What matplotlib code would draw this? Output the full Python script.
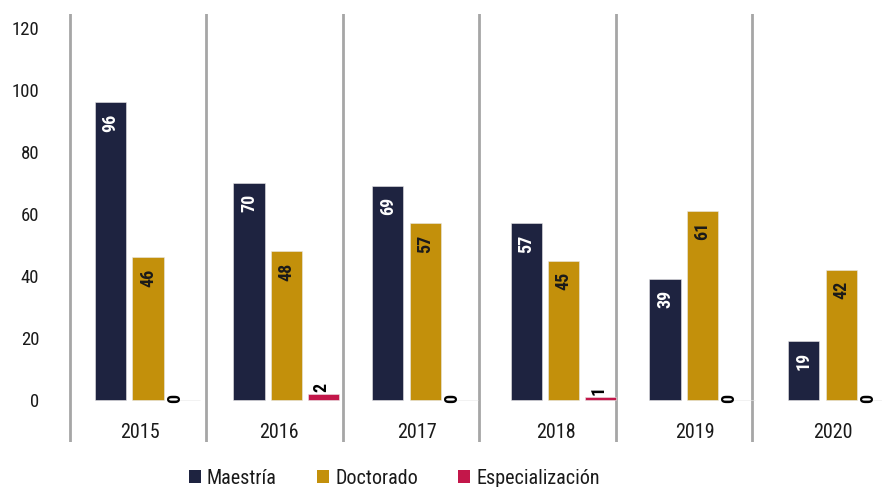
import numpy as np
import matplotlib
matplotlib.use('Agg')
from matplotlib import pyplot as plt
from matplotlib.patches import Patch
from matplotlib import font_manager

years = ['2015', '2016', '2017', '2018', '2019', '2020']
series_names = ['Maestría', 'Doctorado', 'Especialización']
maestria = [96, 70, 69, 57, 39, 19]
doctorado = [46, 48, 57, 45, 61, 42]
especializacion = [0, 2, 0, 1, 0, 0]

colors = ['#1e2340', '#c3900b', '#c3174a']
label_colors = ['white', '#1a1a1a', 'black']
offsets = [-0.213, 0.058, 0.324]
bar_w = 0.225

installed = {f.name for f in font_manager.fontManager.ttflist}
fams = [f for f in ['Liberation Sans Narrow', 'DejaVu Sans Condensed', 'Roboto Condensed', 'Roboto']
        if f in installed]
plt.rcParams['font.family'] = fams + ['DejaVu Sans']

fig = plt.figure(figsize=(8.82, 4.87), dpi=100)
ax = fig.add_axes([60 / 882, 1 - 442 / 487, 822 / 882, 428 / 487])

x = np.arange(len(years))
for vals, col, lcol, off in zip([maestria, doctorado, especializacion], colors, label_colors, offsets):
    bars = ax.bar(x + off, vals, width=bar_w, color=col, edgecolor='#e8e8e8', linewidth=0.4, zorder=2)
    for b, v in zip(bars, vals):
        cx = b.get_x() + b.get_width() / 2
        if v >= 10:
            ax.annotate(str(v), (cx, v), xytext=(0, -11), textcoords='offset pixels',
                        rotation=90, ha='center', va='top', fontsize=13,
                        fontweight='bold', color=lcol)
        elif v > 0:
            ax.annotate(str(v), (cx, v), xytext=(-2, 2), textcoords='offset pixels',
                        rotation=90, ha='center', va='bottom', fontsize=13,
                        fontweight='bold', color='black')
        else:
            ax.annotate(str(v), (cx, 0), xytext=(-10, 2), textcoords='offset pixels',
                        rotation=90, ha='center', va='center', fontsize=13,
                        fontweight='bold', color='black')

# category separators
for s in np.arange(len(years)) * 0.984 - 0.505:
    ax.axvline(s, color='#a6a6a6', linewidth=2, zorder=1)

for i, yr in enumerate(years):
    ax.text(i, -10.3, yr, ha='center', va='center', fontsize=14.5, color='#1a1a1a')

ax.set_xlim(-0.577, 5.353)
ax.set_ylim(-13.5, 124.5)
ax.set_xticks([])
ax.set_yticks(np.arange(0, 121, 20))
ax.tick_params(axis='y', length=0, pad=15, labelsize=13.5, labelcolor='#1a1a1a')
for sp in ax.spines.values():
    sp.set_visible(False)

handles = [Patch(facecolor=c, edgecolor='none') for c in colors]
fig.legend(handles, series_names, loc='center', bbox_to_anchor=(0.447, 0.018),
           ncol=3, frameon=False, fontsize=14.5, handlelength=0.6, handleheight=0.6,
           handletextpad=0.3, columnspacing=2.0, labelcolor='#1a1a1a')

fig.savefig('out.png', dpi=100)
